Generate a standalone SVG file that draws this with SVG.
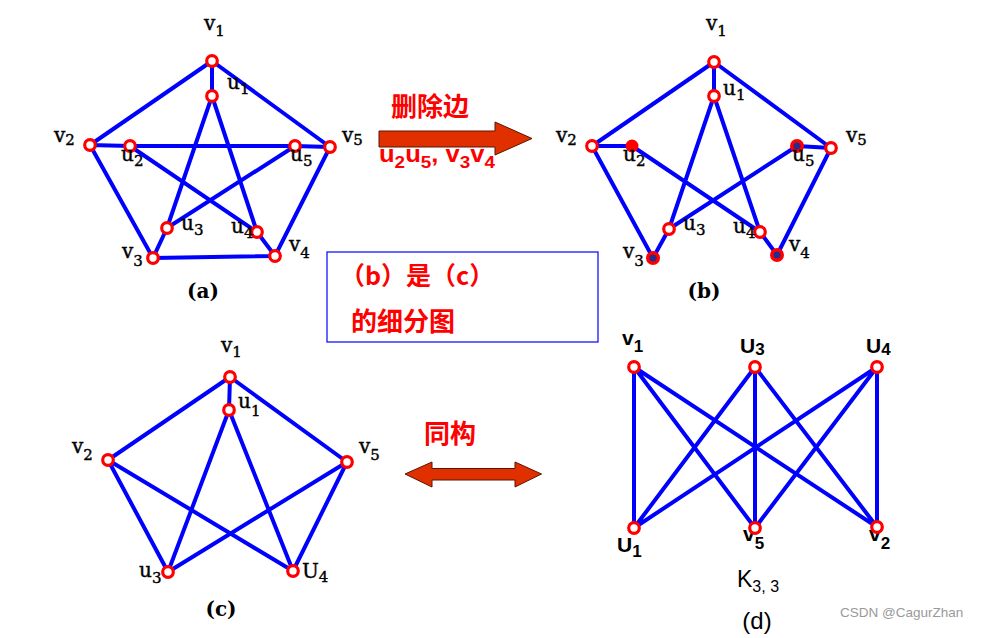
<svg xmlns="http://www.w3.org/2000/svg" width="981" height="638" viewBox="0 0 981 638">
<style>
.e{stroke:#0000ff;stroke-width:4;stroke-linecap:round;fill:none}
.n{fill:#fff;stroke:#ff0000;stroke-width:3.2}
.nd{fill:#2a2a8a;stroke:#ff0000;stroke-width:3.4}
.nf{fill:#ff0000;stroke:#ff0000;stroke-width:2}
.s{font-family:"DejaVu Serif","Liberation Serif",serif;font-size:20px;fill:#000;stroke:#000;stroke-width:0.4}
.s tspan.b{font-size:15px}
.d{font-family:"Liberation Sans",Arial,sans-serif;font-weight:bold;font-size:21px;fill:#000}
.d tspan.b{font-size:17px}
.cap{font-family:"DejaVu Serif","Liberation Serif",serif;font-weight:bold;font-size:20px;fill:#000;text-anchor:middle}
.cn{font-family:"Noto Sans CJK SC",sans-serif;font-weight:bold;fill:#ff0000}
.arr{fill:#e03000;stroke:#5a1500;stroke-width:1}
</style>

<g id="edges">
<!-- (a) -->
<path class="e" d="M212 61L90 145M212 61L330 147M212 61L212 96M90 145L130 146M90 145L153 258M330 147L295 146M330 147L275 256M153 258L275 256M153 258L167 228M275 256L257 232M212 96L167 228M212 96L257 232M130 146L295 146M130 146L257 232M295 146L167 228"/>
<!-- (b) -->
<path class="e" d="M714 62L592 146M714 62L831 148M714 62L714 96M592 146L632 146M592 146L653 258M831 148L797 146M831 148L777 255M653 258L669 229M777 255L760 232M714 96L669 229M714 96L760 232M632 146L760 232M797 146L669 229"/>
<!-- (c) -->
<path class="e" d="M230 377L108 460M230 377L347 462M230 377L229 410M108 460L168 572M108 460L293 571M347 462L168 572M347 462L293 571M229 410L168 572M229 410L293 571"/>
<!-- (d) -->
<path class="e" d="M634 367L634 528M634 367L755 528M634 367L877 527M755 367L634 528M755 367L755 528M755 367L877 527M877 367L634 528M877 367L755 528M877 367L877 527"/>
</g>

<g id="graph-a">
<g id="a-v1"><circle class="n" cx="212" cy="61" r="5.3"/><text class="s" x="204" y="30">v<tspan class="b" dy="6">1</tspan></text></g>
<g id="a-u1"><circle class="n" cx="212" cy="96" r="5.3"/><text class="s" x="227" y="89">u<tspan class="b" dy="5">1</tspan></text></g>
<g id="a-v2"><circle class="n" cx="90" cy="145" r="5.3"/><text class="s" x="54" y="142">v<tspan class="b" dy="3">2</tspan></text></g>
<g id="a-u2"><circle class="n" cx="130" cy="146" r="5.3"/><text class="s" x="121" y="161">u<tspan class="b" dy="5">2</tspan></text></g>
<g id="a-u5"><circle class="n" cx="295" cy="146" r="5.3"/><text class="s" x="290" y="161">u<tspan class="b" dy="5">5</tspan></text></g>
<g id="a-v5"><circle class="n" cx="330" cy="147" r="5.3"/><text class="s" x="342" y="142">v<tspan class="b" dy="3">5</tspan></text></g>
<g id="a-u3"><circle class="n" cx="167" cy="228" r="5.3"/><text class="s" x="181" y="230">u<tspan class="b" dy="5">3</tspan></text></g>
<g id="a-u4"><circle class="n" cx="257" cy="232" r="5.3"/><text class="s" x="231" y="233">u<tspan class="b" dy="5">4</tspan></text></g>
<g id="a-v3"><circle class="n" cx="153" cy="258" r="5.3"/><text class="s" x="122" y="258">v<tspan class="b" dy="8">3</tspan></text></g>
<g id="a-v4"><circle class="n" cx="275" cy="256" r="5.3"/><text class="s" x="289" y="251">v<tspan class="b" dy="7">4</tspan></text></g>
<text class="cap" x="203" y="298">(a)</text>
</g>

<g id="graph-b">
<g id="b-v1"><circle class="n" cx="714" cy="62" r="5.3"/><text class="s" x="706" y="30">v<tspan class="b" dy="6">1</tspan></text></g>
<g id="b-u1"><circle class="n" cx="714" cy="96" r="5.3"/><text class="s" x="723" y="95">u<tspan class="b" dy="5">1</tspan></text></g>
<g id="b-v2"><circle class="n" cx="592" cy="146" r="5.3"/><text class="s" x="556" y="142">v<tspan class="b" dy="3">2</tspan></text></g>
<g id="b-u2"><circle class="nf" cx="632" cy="146" r="5.5"/><text class="s" x="623" y="161">u<tspan class="b" dy="5">2</tspan></text></g>
<g id="b-u5"><circle class="nd" cx="797" cy="146" r="5.3"/><text class="s" x="792" y="161">u<tspan class="b" dy="5">5</tspan></text></g>
<g id="b-v5"><circle class="n" cx="831" cy="148" r="5.3"/><text class="s" x="846" y="142">v<tspan class="b" dy="3">5</tspan></text></g>
<g id="b-u3"><circle class="n" cx="669" cy="229" r="5.3"/><text class="s" x="683" y="230">u<tspan class="b" dy="5">3</tspan></text></g>
<g id="b-u4"><circle class="n" cx="760" cy="232" r="5.3"/><text class="s" x="733" y="233">u<tspan class="b" dy="5">4</tspan></text></g>
<g id="b-v3"><circle class="nd" cx="653" cy="258" r="5.3"/><text class="s" x="623" y="258">v<tspan class="b" dy="8">3</tspan></text></g>
<g id="b-v4"><circle class="nd" cx="777" cy="255" r="5.3"/><text class="s" x="789" y="251">v<tspan class="b" dy="7">4</tspan></text></g>
<text class="cap" x="704" y="298">(b)</text>
</g>

<g id="arrow-delete">
<polygon class="arr" points="379,131 495,131 495,122 532,138.5 495,155 495,147 379,147"/>
<text class="cn" x="391" y="116" font-size="26">删除边</text>
<text x="379" y="162" font-family="Liberation Sans,Arial,sans-serif" font-weight="bold" font-size="23" fill="#ff0000" textLength="116" lengthAdjust="spacingAndGlyphs">u<tspan font-size="17" dy="6">2</tspan><tspan dy="-6">u</tspan><tspan font-size="17" dy="6">5</tspan><tspan dy="-6">, v</tspan><tspan font-size="17" dy="6">3</tspan><tspan dy="-6">v</tspan><tspan font-size="17" dy="6">4</tspan></text>
</g>

<g id="note">
<rect x="327" y="252" width="271" height="90" fill="#fff" stroke="#0000ff" stroke-width="1.2"/>
<text class="cn" x="340" y="285" font-size="25">（b）是（c）</text>
<text class="cn" x="351" y="331" font-size="26">的细分图</text>
</g>

<g id="graph-c">
<g id="c-v1"><circle class="n" cx="230" cy="377" r="5.3"/><text class="s" x="221" y="352">v<tspan class="b" dy="5">1</tspan></text></g>
<g id="c-u1"><circle class="n" cx="229" cy="410" r="5.3"/><text class="s" x="238" y="408">u<tspan class="b" dy="8">1</tspan></text></g>
<g id="c-v2"><circle class="n" cx="108" cy="460" r="5.3"/><text class="s" x="72" y="453">v<tspan class="b" dy="7">2</tspan></text></g>
<g id="c-v5"><circle class="n" cx="347" cy="462" r="5.3"/><text class="s" x="359" y="453">v<tspan class="b" dy="7">5</tspan></text></g>
<g id="c-u3"><circle class="n" cx="168" cy="572" r="5.3"/><text class="s" x="139" y="577">u<tspan class="b" dy="6">3</tspan></text></g>
<g id="c-u4"><circle class="n" cx="293" cy="571" r="5.3"/><text class="s" x="302" y="578" font-size="18">U<tspan class="b" dy="4">4</tspan></text></g>
<text class="cap" x="221" y="616">(c)</text>
</g>

<g id="arrow-iso">
<polygon class="arr" points="405,474 432,462 432,468.5 515,468.5 515,462 541.5,474 515,487 515,480 432,480 432,487"/>
<text class="cn" x="424" y="443" font-size="26">同构</text>
</g>

<g id="graph-d">
<g id="d-v1"><circle class="n" cx="634" cy="367" r="5.3"/><text class="d" x="622" y="345">v<tspan class="b" dy="7">1</tspan></text></g>
<g id="d-u3"><circle class="n" cx="755" cy="367" r="5.3"/><text class="d" x="740" y="353">U<tspan class="b" dy="2">3</tspan></text></g>
<g id="d-u4"><circle class="n" cx="877" cy="367" r="5.3"/><text class="d" x="866" y="353">U<tspan class="b" dy="2">4</tspan></text></g>
<g id="d-u1"><circle class="n" cx="634" cy="528" r="5.3"/><text class="d" x="617" y="552">U<tspan class="b" dy="5">1</tspan></text></g>
<g id="d-v5"><text class="d" x="743" y="541">v<tspan class="b" dy="8">5</tspan></text><circle class="n" cx="755" cy="528" r="5.3"/></g>
<g id="d-v2"><text class="d" x="869" y="541">v<tspan class="b" dy="8">2</tspan></text><circle class="n" cx="877" cy="527" r="5.3"/></g>
<text x="737" y="587" font-family="Liberation Sans,Arial,sans-serif" font-size="23" fill="#000">K<tspan font-size="16" dy="5">3, 3</tspan></text>
<text x="757" y="629" font-family="Liberation Sans,Arial,sans-serif" font-size="24" fill="#000" text-anchor="middle">(d)</text>
</g>

<text x="840" y="617" font-family="Liberation Sans,Arial,sans-serif" font-size="13.5" fill="#999">CSDN @CagurZhan</text>
</svg>
